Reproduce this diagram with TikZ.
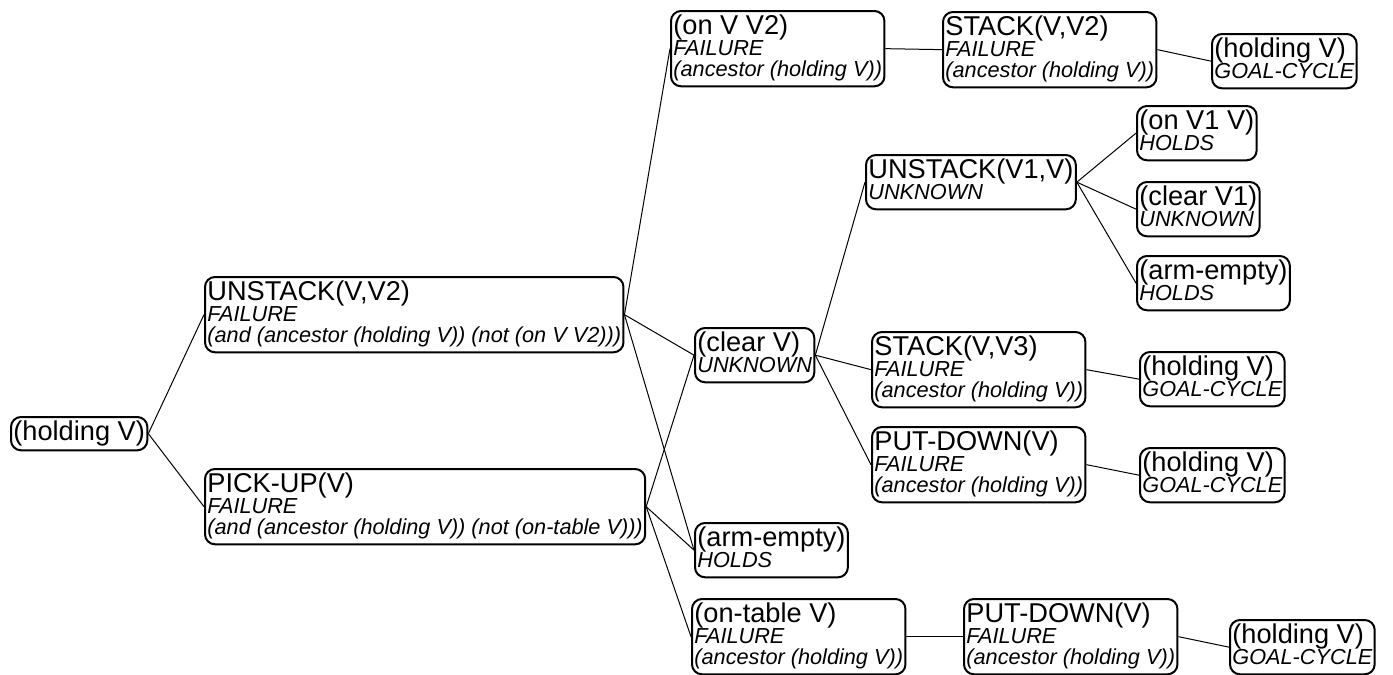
\documentclass[tikz,border=0pt]{standalone}
\usepackage{fontspec}
\setmainfont{Liberation Sans}
\usetikzlibrary{positioning}
\tikzset{
    goal/.style = {rectangle, rounded corners=5pt, line width=1pt, draw=black, fill=white,
                   align=left, anchor=north west, inner xsep=1.2pt, inner ysep=1.9pt,
                   font=\fontsize{10.85}{10.5}\selectfont},
    edgel/.style = {line width=0.5pt, black},
}
\lineskiplimit=-20pt
\newcommand{\Hd}[1]{{\fontsize{13.6}{10.5}\selectfont #1}\rule[-3pt]{0pt}{3pt}}
\newcommand{\Sm}[1]{{\itshape #1}\rule[-3pt]{0pt}{3pt}}

\begin{document}
\begin{tikzpicture}[x=0.5pt,y=-0.5pt]
\useasboundingbox (0,0) rectangle (1393,675);
\node[goal] at (10, 416) (r) {\Hd{(holding V)}};
\node[goal] at (204, 276) (u) {\Hd{UNSTACK(V,V2)}\\\Sm{FAILURE}\\\Sm{(and (ancestor (holding V)) (not (on V V2)))}};
\node[goal] at (204, 468) (p) {\Hd{PICK-UP(V)}\\\Sm{FAILURE}\\\Sm{(and (ancestor (holding V)) (not (on-table V)))}};
%
\node[goal] at (670, 10) (on) {\Hd{(on V V2)}\\\Sm{FAILURE}\\\Sm{(ancestor (holding V))}};
\node[goal] at (942, 11) (st) {\Hd{STACK(V,V2)}\\\Sm{FAILURE}\\\Sm{(ancestor (holding V))}};
\node[goal] at (1211, 33) (hg1) {\Hd{(holding V)}\\\Sm{GOAL-CYCLE}};
%
\node[goal] at (694, 327) (cl) {\Hd{(clear V)}\\\Sm{UNKNOWN}};
\node[goal] at (865, 154) (uv) {\Hd{UNSTACK(V1,V)}\\\Sm{UNKNOWN}};
\node[goal] at (1136, 105) (onv) {\Hd{(on V1 V)}\\\Sm{HOLDS}};
\node[goal] at (1136, 181) (cl1) {\Hd{(clear V1)}\\\Sm{UNKNOWN}};
\node[goal] at (1136, 255) (ae1) {\Hd{(arm-empty)}\\\Sm{HOLDS}};
\node[goal] at (871, 331) (st3) {\Hd{STACK(V,V3)}\\\Sm{FAILURE}\\\Sm{(ancestor (holding V))}};
\node[goal] at (1139, 351) (hg2) {\Hd{(holding V)}\\\Sm{GOAL-CYCLE}};
\node[goal] at (871, 426) (pd) {\Hd{PUT-DOWN(V)}\\\Sm{FAILURE}\\\Sm{(ancestor (holding V))}};
\node[goal] at (1139, 447) (hg3) {\Hd{(holding V)}\\\Sm{GOAL-CYCLE}};
%
\node[goal] at (694, 522) (ae) {\Hd{(arm-empty)}\\\Sm{HOLDS}};
\node[goal] at (691, 598) (ot) {\Hd{(on-table V)}\\\Sm{FAILURE}\\\Sm{(ancestor (holding V))}};
\node[goal] at (963, 598) (pd2) {\Hd{PUT-DOWN(V)}\\\Sm{FAILURE}\\\Sm{(ancestor (holding V))}};
\node[goal] at (1229, 619) (hg4) {\Hd{(holding V)}\\\Sm{GOAL-CYCLE}};
%
\draw[edgel] (r.east) -- (u.west);
\draw[edgel] (r.east) -- (p.west);
\draw[edgel] (u.east) -- (on.west);
\draw[edgel] (u.east) -- (cl.west);
\draw[edgel] (u.east) -- (ae.west);
\draw[edgel] (p.east) -- (cl.west);
\draw[edgel] (p.east) -- (ae.west);
\draw[edgel] (p.east) -- (ot.west);
\draw[edgel] (on.east) -- (st.west);
\draw[edgel] (st.east) -- (hg1.west);
\draw[edgel] (cl.east) -- (uv.west);
\draw[edgel] (cl.east) -- (st3.west);
\draw[edgel] (cl.east) -- (pd.west);
\draw[edgel] (uv.east) -- (onv.west);
\draw[edgel] (uv.east) -- (cl1.west);
\draw[edgel] (uv.east) -- (ae1.west);
\draw[edgel] (st3.east) -- (hg2.west);
\draw[edgel] (pd.east) -- (hg3.west);
\draw[edgel] (ot.east) -- (pd2.west);
\draw[edgel] (pd2.east) -- (hg4.west);
\end{tikzpicture}
\end{document}
